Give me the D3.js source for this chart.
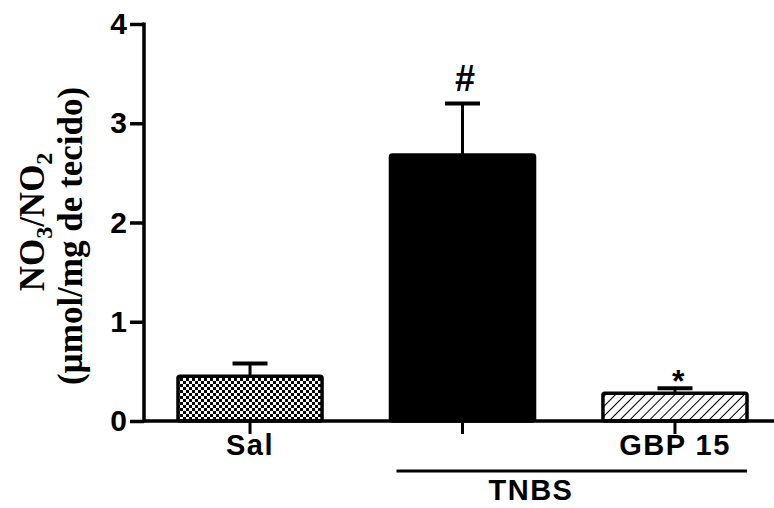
<!DOCTYPE html>
<html>
<head>
<meta charset="utf-8">
<script src="https://cdn.jsdelivr.net/npm/d3@7"></script>
<style>
  body { margin: 0; background: #fff; }
  svg { display: block; }
  .tick text { font-family: "Liberation Sans", Arial, sans-serif; font-weight: bold; font-size: 30px; }
  .lbl { font-family: "Liberation Sans", Arial, sans-serif; font-weight: bold; font-size: 29px; letter-spacing: 1.5px; }
  .ytitle { font-family: "Liberation Serif", "Times New Roman", serif; font-weight: bold; font-size: 35px; }
</style>
</head>
<body>
<div id="chart"></div>
<script>
// data
var groups = ["Sal", "TNBS", "GBP 15"];
var means = [0.45, 2.68, 0.28];
var errors = [0.13, 0.52, 0.05];
var marks = ["", "#", "*"];
var yTicks = [0, 1, 2, 3, 4];

var svgWidth = 774;
var svgHeight = 508;
var margin = { top: 24, right: 1, bottom: 87, left: 144 };
var width = svgWidth - margin.left - margin.right;
var height = svgHeight - margin.top - margin.bottom;

var svg = d3.select("#chart")
  .append("svg")
  .attr("width", svgWidth)
  .attr("height", svgHeight);

// fill patterns
var defs = svg.append("defs");
var check = defs.append("pattern")
  .attr("id", "check")
  .attr("patternUnits", "userSpaceOnUse")
  .attr("width", 6).attr("height", 6);
check.append("rect").attr("width", 6).attr("height", 6).attr("fill", "#fff");
check.append("rect").attr("width", 3).attr("height", 3).attr("fill", "#000");
check.append("rect").attr("x", 3).attr("y", 3).attr("width", 3).attr("height", 3).attr("fill", "#000");

var hatch = defs.append("pattern")
  .attr("id", "hatch")
  .attr("patternUnits", "userSpaceOnUse")
  .attr("width", 7).attr("height", 7)
  .attr("patternTransform", "rotate(45)");
hatch.append("rect").attr("width", 7).attr("height", 7).attr("fill", "#fff");
hatch.append("line").attr("x1", 0).attr("y1", 0).attr("x2", 0).attr("y2", 7)
  .attr("stroke", "#000").attr("stroke-width", 2);

var fills = ["url(#check)", "#000", "url(#hatch)"];

var chartGroup = svg.append("g")
  .attr("transform", `translate(${margin.left}, ${margin.top})`);

var xScale = d3.scaleBand()
  .domain(groups)
  .range([0, 637])
  .paddingInner(0.322)
  .paddingOuter(0.16);

var yScale = d3.scaleLinear()
  .domain([0, 4])
  .range([height, 0]);

// error bars (upper only)
chartGroup.selectAll(".err")
  .data(groups)
  .enter()
  .append("line")
  .attr("x1", d => xScale(d) + xScale.bandwidth() / 2)
  .attr("x2", d => xScale(d) + xScale.bandwidth() / 2)
  .attr("y1", (d, i) => yScale(means[i]))
  .attr("y2", (d, i) => yScale(means[i] + errors[i]))
  .attr("stroke", "#000")
  .attr("stroke-width", 3);

chartGroup.selectAll(".cap")
  .data(groups)
  .enter()
  .append("line")
  .attr("x1", d => xScale(d) + xScale.bandwidth() / 2 - 17.5)
  .attr("x2", d => xScale(d) + xScale.bandwidth() / 2 + 17.5)
  .attr("y1", (d, i) => yScale(means[i] + errors[i]))
  .attr("y2", (d, i) => yScale(means[i] + errors[i]))
  .attr("stroke", "#000")
  .attr("stroke-width", 4);

// bars
chartGroup.selectAll(".bar")
  .data(groups)
  .enter()
  .append("rect")
  .attr("x", d => xScale(d))
  .attr("y", (d, i) => yScale(means[i]))
  .attr("width", xScale.bandwidth())
  .attr("height", (d, i) => height - yScale(means[i]))
  .attr("rx", 2)
  .attr("fill", (d, i) => fills[i])
  .attr("stroke", "#000")
  .attr("stroke-width", 3.5);

// significance marks
chartGroup.selectAll(".mark")
  .data(groups)
  .enter()
  .append("text")
  .attr("class", "lbl")
  .attr("text-anchor", "middle")
  .attr("x", d => xScale(d) + xScale.bandwidth() / 2 + 2)
  .attr("y", (d, i) => yScale(means[i] + errors[i]) - (i == 2 ? -4 : 12))
  .style("letter-spacing", "0px")
  .style("font-size", (d, i) => i == 2 ? "32px" : "36px")
  .style("font-style", "italic")
  .text((d, i) => marks[i]);

// axes
var leftAxis = d3.axisLeft(yScale).tickValues(yTicks).tickSize(14).tickPadding(3).tickFormat(d3.format("d"));
var bottomAxis = d3.axisBottom(xScale).tickSize(13).tickFormat("");

var yAxisG = chartGroup.append("g").call(leftAxis);
yAxisG.select(".domain").remove();
yAxisG.selectAll(".tick line").attr("stroke-width", 3.5);
yAxisG.append("line")
  .attr("x1", 0).attr("x2", 0)
  .attr("y1", -1.5).attr("y2", height + 1.5)
  .attr("stroke", "#000").attr("stroke-width", 3.5);
yAxisG.selectAll(".tick text").attr("fill", "#000");

var xAxisG = chartGroup.append("g")
  .attr("transform", `translate(0, ${height})`)
  .call(bottomAxis);
xAxisG.select(".domain").remove();
xAxisG.selectAll(".tick line").attr("stroke-width", 3);
xAxisG.append("line")
  .attr("x1", 0).attr("x2", 637)
  .attr("y1", 0).attr("y2", 0)
  .attr("stroke", "#000").attr("stroke-width", 3.5);

// group labels under the axis
chartGroup.append("text")
  .attr("class", "lbl")
  .attr("text-anchor", "middle")
  .attr("x", xScale("Sal") + xScale.bandwidth() / 2)
  .attr("y", height + 34)
  .text("Sal");

chartGroup.append("text")
  .attr("class", "lbl")
  .attr("text-anchor", "middle")
  .attr("x", xScale("GBP 15") + xScale.bandwidth() / 2)
  .attr("y", height + 34)
  .text("GBP 15");

chartGroup.append("line")
  .attr("x1", xScale("TNBS") + 6)
  .attr("x2", xScale("GBP 15") + xScale.bandwidth())
  .attr("y1", height + 50)
  .attr("y2", height + 50)
  .attr("stroke", "#000")
  .attr("stroke-width", 3);

chartGroup.append("text")
  .attr("class", "lbl")
  .attr("text-anchor", "middle")
  .attr("x", 387)
  .attr("y", height + 79)
  .text("TNBS");

// y axis title
var yt = svg.append("text")
  .attr("class", "ytitle")
  .attr("text-anchor", "middle")
  .attr("transform", "translate(44, 222) rotate(-90)");
yt.append("tspan").text("NO");
yt.append("tspan").attr("dy", 8).style("font-size", "24px").text("3");
yt.append("tspan").attr("dy", -8).text("/NO");
yt.append("tspan").attr("dy", 8).style("font-size", "24px").text("2");

svg.append("text")
  .attr("class", "ytitle")
  .attr("text-anchor", "middle")
  .attr("transform", "translate(82, 236) rotate(-90)")
  .text("(µmol/mg de tecido)");
</script>
</body>
</html>
